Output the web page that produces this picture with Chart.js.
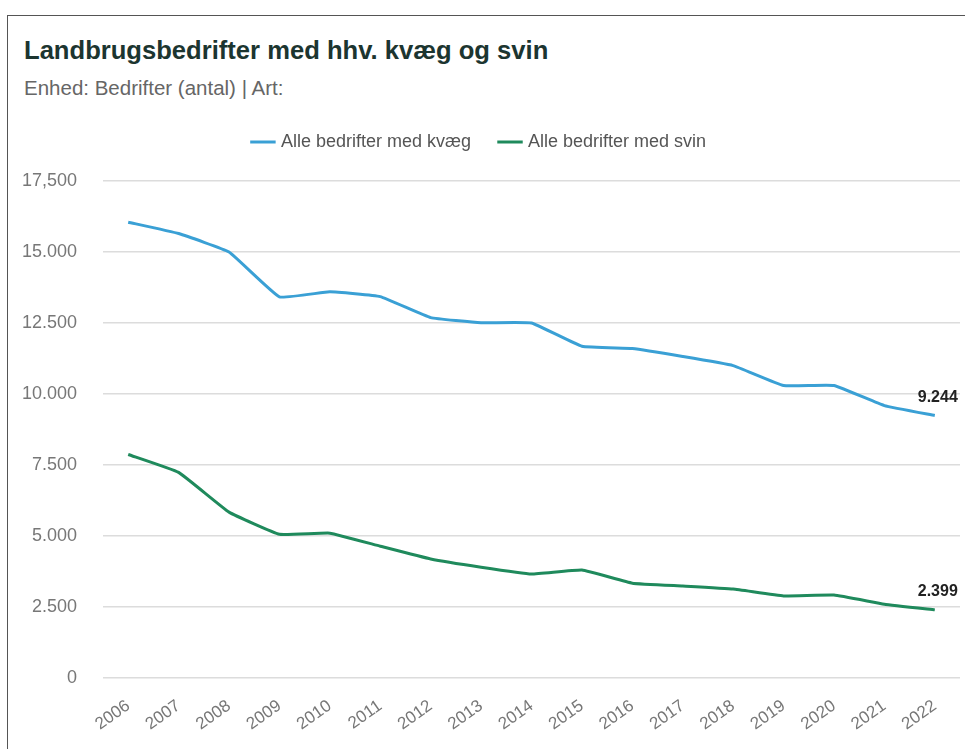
<!DOCTYPE html>
<html>
<head>
<meta charset="utf-8">
<script src="https://cdn.jsdelivr.net/npm/chart.js@4"></script>
<style>
  html,body{margin:0;padding:0;background:#fff;width:965px;height:749px;overflow:hidden;font-family:Arial,"Liberation Sans",sans-serif;}
  .frame{position:absolute;left:7px;top:15px;width:1000px;height:800px;border:1px solid #555;box-sizing:border-box;}
  h1{position:absolute;left:24px;top:36px;margin:0;font-size:25.6px;font-weight:bold;color:#1c3530;}
  .sub{position:absolute;left:24px;top:76px;font-size:20.5px;color:#666;}
  .wrap{position:absolute;left:0;top:103px;width:965px;height:646px;}
</style>
</head>
<body>
<div class="frame"></div>
<h1>Landbrugsbedrifter med hhv. kvæg og svin</h1>
<div class="sub">Enhed: Bedrifter (antal) | Art:</div>
<div class="wrap"><canvas id="ch"></canvas></div>
<script>
// ── DATA ──
const years=['2006','2007','2008','2009','2010','2011','2012','2013','2014','2015','2016','2017','2018','2019','2020','2021','2022'];
const kvaeg=[16050,15650,15000,13420,13600,13430,12690,12510,12500,11680,11600,11320,11000,10300,10300,9590,9244];
const svin=[7870,7240,5840,5060,5100,4640,4190,3900,3660,3800,3340,3240,3130,2890,2920,2600,2399];
const seriesNames=['Alle bedrifter med kvæg','Alle bedrifter med svin'];
const colors=['#3aa0d5','#1f8a5c'];

const fmtDK=v=>String(Math.round(v)).replace(/\B(?=(\d{3})+(?!\d))/g,'.');
// the top tick is printed with a comma in the original
const tickFmt=v=>v===17500?'17,500':fmtDK(v);

// last value label
const lastLabel={ id:'lastLabel',
  afterDatasetsDraw(chart){
    const ctx=chart.ctx;
    ctx.save();
    ctx.font='bold 16px Arial, "Liberation Sans", sans-serif';
    ctx.fillStyle='#222'; ctx.textAlign='center'; ctx.textBaseline='bottom';
    chart.data.datasets.forEach((ds,i)=>{
      const meta=chart.getDatasetMeta(i);
      const p=meta.data[meta.data.length-1];
      const v=ds.data[ds.data.length-1];
      ctx.fillText(fmtDK(v), p.x+3, p.y-10);
    });
    ctx.restore();
  }
};
// extra room under the legend
const legendGap={ id:'legendGap',
  beforeInit(chart){
    const fit=chart.legend.fit;
    chart.legend.fit=function(){ fit.bind(chart.legend)(); this.height+=20; };
  }
};

new Chart(document.getElementById('ch'),{
  type:'line',
  data:{ labels:years, datasets:[
    { label:seriesNames[0], data:kvaeg, borderColor:colors[0], backgroundColor:colors[0], borderWidth:3, pointRadius:0, tension:0.1 },
    { label:seriesNames[1], data:svin, borderColor:colors[1], backgroundColor:colors[1], borderWidth:3, pointRadius:0, tension:0.1 }
  ]},
  options:{ responsive:true, maintainAspectRatio:false, animation:false,
    layout:{ padding:{ left:0, right:5, top:0, bottom:0 } },
    plugins:{
      legend:{ labels:{ color:'#555', font:{size:18}, usePointStyle:true, pointStyle:'line', boxWidth:23, padding:30 } },
      tooltip:{ enabled:false }
    },
    scales:{
      x:{ offset:true, grid:{ display:false }, border:{ display:false },
        afterFit:s=>{ s.height=71; },
        ticks:{ color:'#777', font:{size:17}, maxRotation:35, minRotation:35, autoSkip:false, padding:10 } },
      y:{ min:0, max:17500, grid:{ color:'#dcdcdc', lineWidth:1.5, drawTicks:false }, border:{ display:false },
        afterFit:s=>{ s.width=103; },
        ticks:{ stepSize:2500, color:'#777', font:{size:18}, padding:26, callback:v=>tickFmt(v) } }
    }
  },
  plugins:[lastLabel,legendGap]
});
</script>
</body>
</html>
